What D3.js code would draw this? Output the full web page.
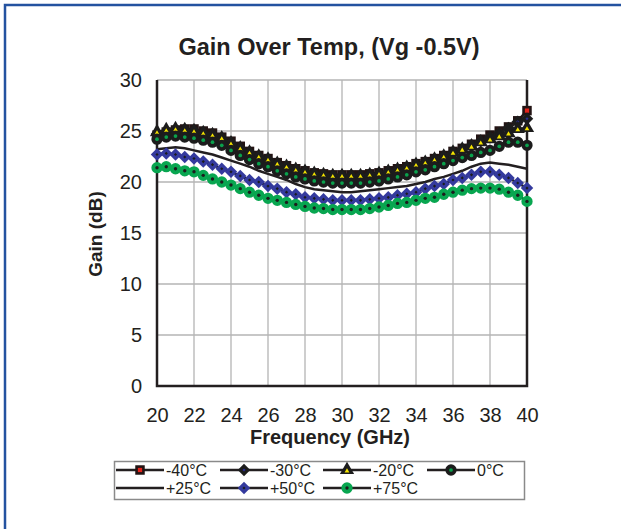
<!DOCTYPE html>
<html>
<head>
<meta charset="utf-8">
<title>Gain Over Temp</title>
<script src="https://d3js.org/d3.v7.min.js"></script>
<style>
body{ margin:0; background:#fff; }
svg{ display:block; font-family:"Liberation Sans", Arial, sans-serif; }
</style>
</head>
<body>
<svg class="chart"></svg>
<script>
// frequency points (GHz)
var freq = [20, 20.5, 21, 21.5, 22, 22.5, 23, 23.5, 24, 24.5, 25, 25.5, 26, 26.5, 27, 27.5, 28, 28.5, 29, 29.5,
            30, 30.5, 31, 31.5, 32, 32.5, 33, 33.5, 34, 34.5, 35, 35.5, 36, 36.5, 37, 37.5, 38, 38.5, 39, 39.5, 40];

// gain (dB) per temperature
var gainM40 = [24.6, 24.9, 25.1, 25.2, 25.2, 25.0, 24.8, 24.4, 24.0, 23.5, 23.0, 22.6, 22.3, 21.9, 21.6, 21.3, 21.1, 20.9, 20.8, 20.7,
               20.7, 20.7, 20.7, 20.8, 20.9, 21.1, 21.3, 21.5, 21.8, 22.0, 22.3, 22.6, 23.0, 23.3, 23.7, 24.2, 24.6, 25.0, 25.4, 26.0, 27.0];
var gainM30 = [24.7, 24.9, 25.1, 25.1, 25.0, 24.8, 24.6, 24.3, 23.8, 23.3, 22.9, 22.5, 22.2, 21.8, 21.5, 21.2, 21.0, 20.8, 20.7, 20.6,
               20.6, 20.6, 20.6, 20.7, 20.8, 21.0, 21.2, 21.4, 21.7, 21.9, 22.2, 22.5, 22.9, 23.2, 23.6, 24.0, 24.4, 24.8, 25.3, 25.9, 26.2];
var gainM20 = [24.9, 25.1, 25.2, 25.1, 25.0, 24.8, 24.6, 24.3, 23.8, 23.3, 22.9, 22.5, 22.2, 21.8, 21.5, 21.2, 21.0, 20.8, 20.7, 20.6,
               20.6, 20.6, 20.6, 20.7, 20.8, 21.0, 21.2, 21.4, 21.7, 21.9, 22.2, 22.5, 22.9, 23.2, 23.5, 23.9, 24.2, 24.5, 24.8, 25.2, 25.3];
var gain0 = [24.2, 24.4, 24.5, 24.4, 24.3, 24.1, 23.9, 23.6, 23.1, 22.6, 22.2, 21.8, 21.5, 21.1, 20.8, 20.5, 20.3, 20.1, 20.0, 19.9,
             19.9, 19.9, 19.9, 20.0, 20.1, 20.3, 20.5, 20.7, 21.0, 21.2, 21.5, 21.8, 22.1, 22.4, 22.6, 22.9, 23.1, 23.5, 23.9, 23.9, 23.6];
var gainP25 = [23.2, 23.3, 23.4, 23.3, 23.1, 22.9, 22.7, 22.4, 22.1, 21.8, 21.5, 21.1, 20.8, 20.5, 20.2, 19.8, 19.5, 19.3, 19.2, 19.1,
               19.0, 19.0, 19.1, 19.2, 19.3, 19.4, 19.5, 19.6, 19.8, 20.0, 20.3, 20.5, 20.8, 21.1, 21.5, 21.8, 21.9, 21.8, 21.7, 21.5, 21.3];
var gainP50 = [22.7, 22.8, 22.7, 22.45, 22.3, 22.0, 21.7, 21.3, 21.0, 20.6, 20.2, 20.0, 19.6, 19.35, 19.0, 18.8, 18.5, 18.4, 18.3, 18.2,
               18.2, 18.2, 18.2, 18.3, 18.4, 18.5, 18.7, 18.85, 19.0, 19.35, 19.6, 19.8, 20.2, 20.4, 20.7, 21.0, 21.0, 20.7, 20.4, 19.9, 19.4];
var gainP75 = [21.4, 21.5, 21.3, 21.1, 21.0, 20.65, 20.3, 20.0, 19.7, 19.35, 19.0, 18.7, 18.4, 18.2, 18.0, 17.8, 17.6, 17.45, 17.4, 17.3,
               17.3, 17.3, 17.3, 17.4, 17.55, 17.7, 17.9, 18.0, 18.2, 18.4, 18.5, 18.8, 19.0, 19.2, 19.35, 19.4, 19.4, 19.3, 19.0, 18.7, 18.1];

var seriesNames = ["-40°C", "-30°C", "-20°C", "0°C", "+25°C", "+50°C", "+75°C"];
var xTicks = [20, 22, 24, 26, 28, 30, 32, 34, 36, 38, 40];
var yTicks = [0, 5, 10, 15, 20, 25, 30];

// marker look: outer shape in one colour with a small dot of another in the middle
var styles = [
  {shape: d3.symbolSquare,   rot: 0,  outer: 90,  outerCol: "#231414", inner: 18, innerCol: "#e3231b", dy: 0},
  {shape: d3.symbolSquare,   rot: 45, outer: 78,  outerCol: "#1c1c1c", inner: 5,  innerCol: "#2b2f96", dy: 0},
  {shape: d3.symbolTriangle, rot: 0,  outer: 88,  outerCol: "#1c1c1c", inner: 10, innerCol: "#f5e400", dy: 1},
  {shape: d3.symbolCircle,   rot: 0,  outer: 100, outerCol: "#1c1c1c", inner: 11, innerCol: "#0aa14c", dy: 0},
  null,
  {shape: d3.symbolSquare,   rot: 45, outer: 78,  outerCol: "#343a9e", inner: 5,  innerCol: "#1c1c1c", dy: 0},
  {shape: d3.symbolCircle,   rot: 0,  outer: 100, outerCol: "#08a650", inner: 9,  innerCol: "#1c1c1c", dy: 0}
];

var allGain = [gainM40, gainM30, gainM20, gain0, gainP25, gainP50, gainP75];
var series = allGain.map(function(g, i){
  return {name: seriesNames[i], style: styles[i],
          values: freq.map(function(f, j){ return {f: f, g: g[j]}; })};
});

var width = 621, height = 529;
var svg = d3.select(".chart").attr("width", width).attr("height", height);

// outer frame (top and left edges visible)
svg.append("path")
  .attr("d", "M5,529 L5,5 L621,5")
  .attr("fill", "none").attr("stroke", "#2452a0").attr("stroke-width", 2.5);

var x = d3.scaleLinear().domain([20, 40]).range([157, 527]);
var y = d3.scaleLinear().domain([0, 30]).range([386, 80]);

// grid
svg.append("g").selectAll("line").data(xTicks).enter().append("line")
  .attr("x1", function(d){ return x(d); }).attr("x2", function(d){ return x(d); })
  .attr("y1", y(0)).attr("y2", y(30))
  .attr("stroke", "#b4b4b4").attr("stroke-width", 1.3);
svg.append("g").selectAll("line").data(yTicks).enter().append("line")
  .attr("x1", x(20)).attr("x2", x(40))
  .attr("y1", function(d){ return y(d); }).attr("y2", function(d){ return y(d); })
  .attr("stroke", "#b4b4b4").attr("stroke-width", 1.3);

// axes
var xAxis = svg.append("g")
  .attr("transform", "translate(0," + y(0) + ")")
  .call(d3.axisBottom(x).tickValues(xTicks).tickSize(0).tickPadding(22).tickFormat(d3.format("d")));
var yAxis = svg.append("g")
  .attr("transform", "translate(" + x(20) + ",0)")
  .call(d3.axisLeft(y).tickValues(yTicks).tickSize(0).tickPadding(15).tickFormat(d3.format("d")));
[xAxis, yAxis].forEach(function(a){
  a.select(".domain").remove();
  a.selectAll("text").attr("font-size", 20).attr("fill", "#231f20").attr("font-family", "Liberation Sans, Arial, sans-serif");
});

// plot frame: black left, bottom, right
svg.append("path")
  .attr("d", "M" + x(20) + "," + y(30) + " V" + y(0) + " H" + x(40) + " V" + y(30))
  .attr("fill", "none").attr("stroke", "#231f20").attr("stroke-width", 2.5);

function drawMarker(sel, st, px, py){
  var rot = st.rot ? " rotate(" + st.rot + ")" : "";
  sel.append("path").attr("transform", "translate(" + px + "," + py + ")" + rot)
    .attr("d", d3.symbol().type(st.shape).size(st.outer)).attr("fill", st.outerCol);
  sel.append("path").attr("transform", "translate(" + px + "," + (py + st.dy) + ")" + rot)
    .attr("d", d3.symbol().type(st.shape).size(st.inner)).attr("fill", st.innerCol);
}

// series
var line = d3.line().x(function(d){ return x(d.f); }).y(function(d){ return y(d.g); });
var plot = svg.append("g");
series.forEach(function(s){
  plot.append("path").datum(s.values)
    .attr("d", line).attr("fill", "none").attr("stroke", "#231f20").attr("stroke-width", 2.5);
  if(s.style){
    var mg = plot.append("g");
    s.values.forEach(function(d){ drawMarker(mg, s.style, x(d.f), y(d.g)); });
  }
});

// titles
svg.append("text").attr("x", 329).attr("y", 55).attr("text-anchor", "middle")
  .attr("font-size", 23.5).attr("font-weight", "bold").attr("fill", "#231f20")
  .text("Gain Over Temp, (Vg -0.5V)");
svg.append("text").attr("x", 330).attr("y", 444).attr("text-anchor", "middle")
  .attr("font-size", 20).attr("font-weight", "bold").attr("fill", "#231f20")
  .text("Frequency (GHz)");
svg.append("text").attr("transform", "translate(102,234) rotate(-90)").attr("text-anchor", "middle")
  .attr("font-size", 19).attr("font-weight", "bold").attr("fill", "#231f20")
  .text("Gain (dB)");

// legend
svg.append("rect").attr("x", 114.5).attr("y", 461.5).attr("width", 410).attr("height", 38)
  .attr("fill", "#fff").attr("stroke", "#8a8a8a").attr("stroke-width", 1.5);
var legX = [116, 220, 323, 427];
var legY = [470, 488];
series.forEach(function(s, i){
  var col = i % 4, row = Math.floor(i / 4);
  var lx = legX[col], ly = legY[row];
  var g = svg.append("g");
  g.append("line").attr("x1", lx).attr("x2", lx + 48).attr("y1", ly).attr("y2", ly)
    .attr("stroke", "#231f20").attr("stroke-width", 2.5);
  if(s.style){
    drawMarker(g, s.style, lx + 24, ly);
  }
  g.append("text").attr("x", lx + 50).attr("y", ly + 6)
    .attr("font-size", 16).attr("fill", "#231f20").text(s.name);
});
</script>
</body>
</html>
